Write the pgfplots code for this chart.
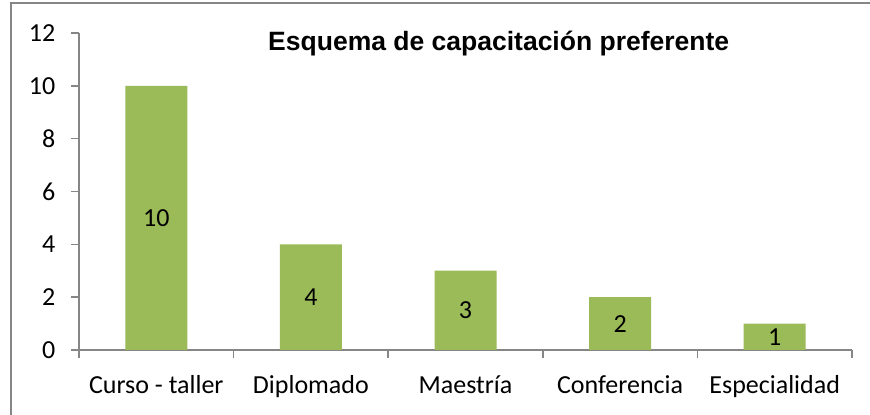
\documentclass[border=0pt]{standalone}
\usepackage{fontspec}
\setmainfont{Carlito}
\newfontfamily\titlefont{Liberation Sans}
\usepackage{pgfplots}
\pgfplotsset{compat=1.18}
\definecolor{bargreen}{RGB}{155,187,89}
\definecolor{axgray}{RGB}{134,134,134}
\begin{document}
\begin{tikzpicture}
\useasboundingbox (0,0) rectangle (870bp,415bp);
\fill[white] (0,0) rectangle (870bp,415bp);
\draw[axgray, line width=1.3bp] (11bp,0) -- (11bp,412bp) -- (870bp,412bp);
\begin{axis}[
  at={(79bp,65bp)}, anchor=south west,
  scale only axis, width=773bp, height=317bp,
  xmin=-0.5, xmax=4.5, ymin=0, ymax=12,
  axis x line*=bottom, axis y line*=left,
  axis line style={axgray, line width=1.5bp, -},
  every tick/.style={axgray, line width=1.5bp},
  ytick={0,2,...,12},
  xtick={-0.5,0.5,...,4.5},
  x tick label as interval,
  xticklabels={Curso - taller, Diplomado, Maestría, Conferencia, Especialidad},
  tick align=outside,
  major tick length=7.5bp,
  tick label style={font=\fontsize{26bp}{30bp}\selectfont, text=black, inner sep=0pt},
  xticklabel style={anchor=base, yshift=-35.5bp},
  yticklabel style={anchor=east, xshift=-16bp},
  xticklabel shift=0pt, yticklabel shift=0pt,
  /pgf/number format/assume math mode=true,
  title={Esquema de capacitación preferente},
  title style={font=\titlefont\bfseries\fontsize{26.5bp}{30bp}\selectfont, at={(axis description cs:0.543,0.927)}, anchor=base, inner sep=0pt},
]
\addplot[ybar, bar width=62bp, fill=bargreen, draw=none,
  nodes near coords,
  visualization depends on={y \as \rawy},
  every node near coord/.append style={anchor=center, shift={(axis direction cs:0,-\rawy/2)}, font=\fontsize{26bp}{30bp}\selectfont, text=black}]
  coordinates {(0,10) (1,4) (2,3) (3,2) (4,1)};
\end{axis}
\end{tikzpicture}
\end{document}
